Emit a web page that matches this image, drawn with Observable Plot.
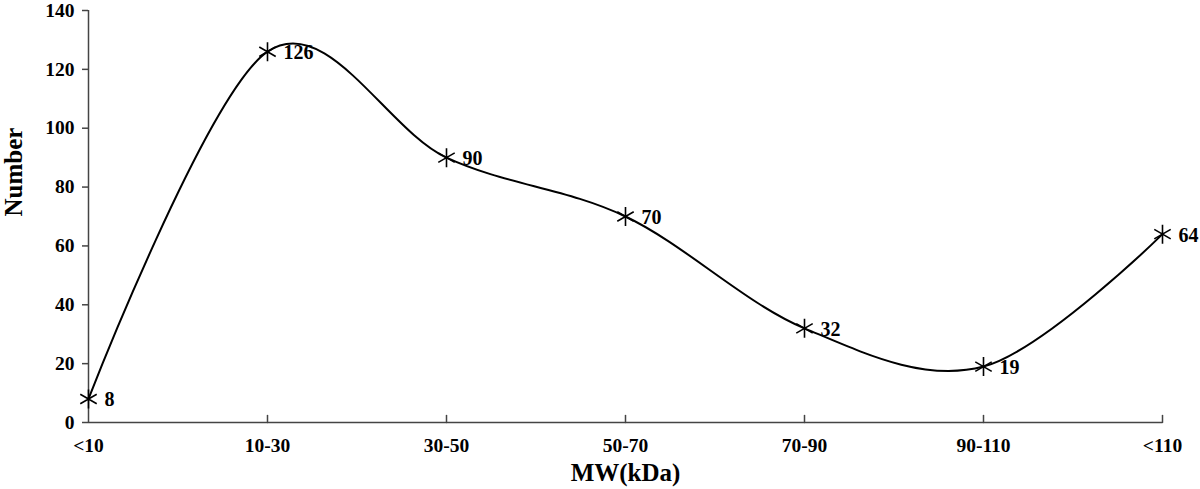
<!DOCTYPE html>
<html>
<head>
<meta charset="utf-8">
<script src="https://cdn.jsdelivr.net/npm/d3@7"></script>
<script src="https://cdn.jsdelivr.net/npm/@observablehq/plot@0.6"></script>
<style>
  html, body { margin: 0; padding: 0; background: #fff; }
  #chart svg { display: block; }
</style>
</head>
<body>
<div id="chart"></div>
<script>
const categories = ["<10", "10-30", "30-50", "50-70", "70-90", "90-110", "<110"];
const values = [8, 126, 90, 70, 32, 19, 64];
const yTicks = [0, 20, 40, 60, 80, 100, 120, 140];
const xTitle = "MW(kDa)";
const yTitle = "Number";

const data = categories.map((c, i) => ({ cat: c, value: values[i] }));

const tickUp = { draw(context, l) { context.moveTo(0, 0); context.lineTo(0, -l); } };

const chart = Plot.plot({
  width: 1200,
  height: 489,
  marginLeft: 88,
  marginRight: 38,
  marginTop: 10,
  marginBottom: 67,
  style: { fontFamily: "'Liberation Serif', 'Times New Roman', serif", fontWeight: "bold", color: "#000", background: "#fff" },
  x: { type: "point", domain: categories, padding: 0 },
  y: { domain: [0, 140] },
  marks: [
    Plot.axisY({ ticks: yTicks, tickSize: 6, tickPadding: 8, fontSize: 19.5, fontWeight: "bold", stroke: "#444", strokeWidth: 1.5, label: null }),
    Plot.axisX({ ticks: categories, tickSize: 0, tickPadding: 16, fontSize: 19.5, fontWeight: "bold", label: null }),
    Plot.vector(categories.slice(1), { x: d => d, y: () => 0, length: 7, rotate: 0, anchor: "start", shape: tickUp, stroke: "#444", strokeWidth: 1.5 }),
    Plot.ruleX([categories[0]], { stroke: "#444", strokeWidth: 1.5 }),
    Plot.ruleY([0], { stroke: "#444", strokeWidth: 1.5 }),
    Plot.line(data, { x: "cat", y: "value", curve: "cardinal", stroke: "#000", strokeWidth: 2 }),
    Plot.dot(data, { x: "cat", y: "value", symbol: "asterisk", r: 9, stroke: "#000", strokeWidth: 1.6 }),
    Plot.text(data, { x: "cat", y: "value", text: d => String(d.value), textAnchor: "start", dx: 16, dy: 1, fontSize: 20, fontWeight: "bold", fill: "#000" }),
    Plot.text([yTitle], { frameAnchor: "left", rotate: -90, dx: -75, fontSize: 25, fontWeight: "bold", fill: "#000" }),
    Plot.text([xTitle], { frameAnchor: "bottom", lineAnchor: "middle", dy: 50, fontSize: 25, fontWeight: "bold", fill: "#000" })
  ]
});
document.getElementById("chart").appendChild(chart);
</script>
</body>
</html>
